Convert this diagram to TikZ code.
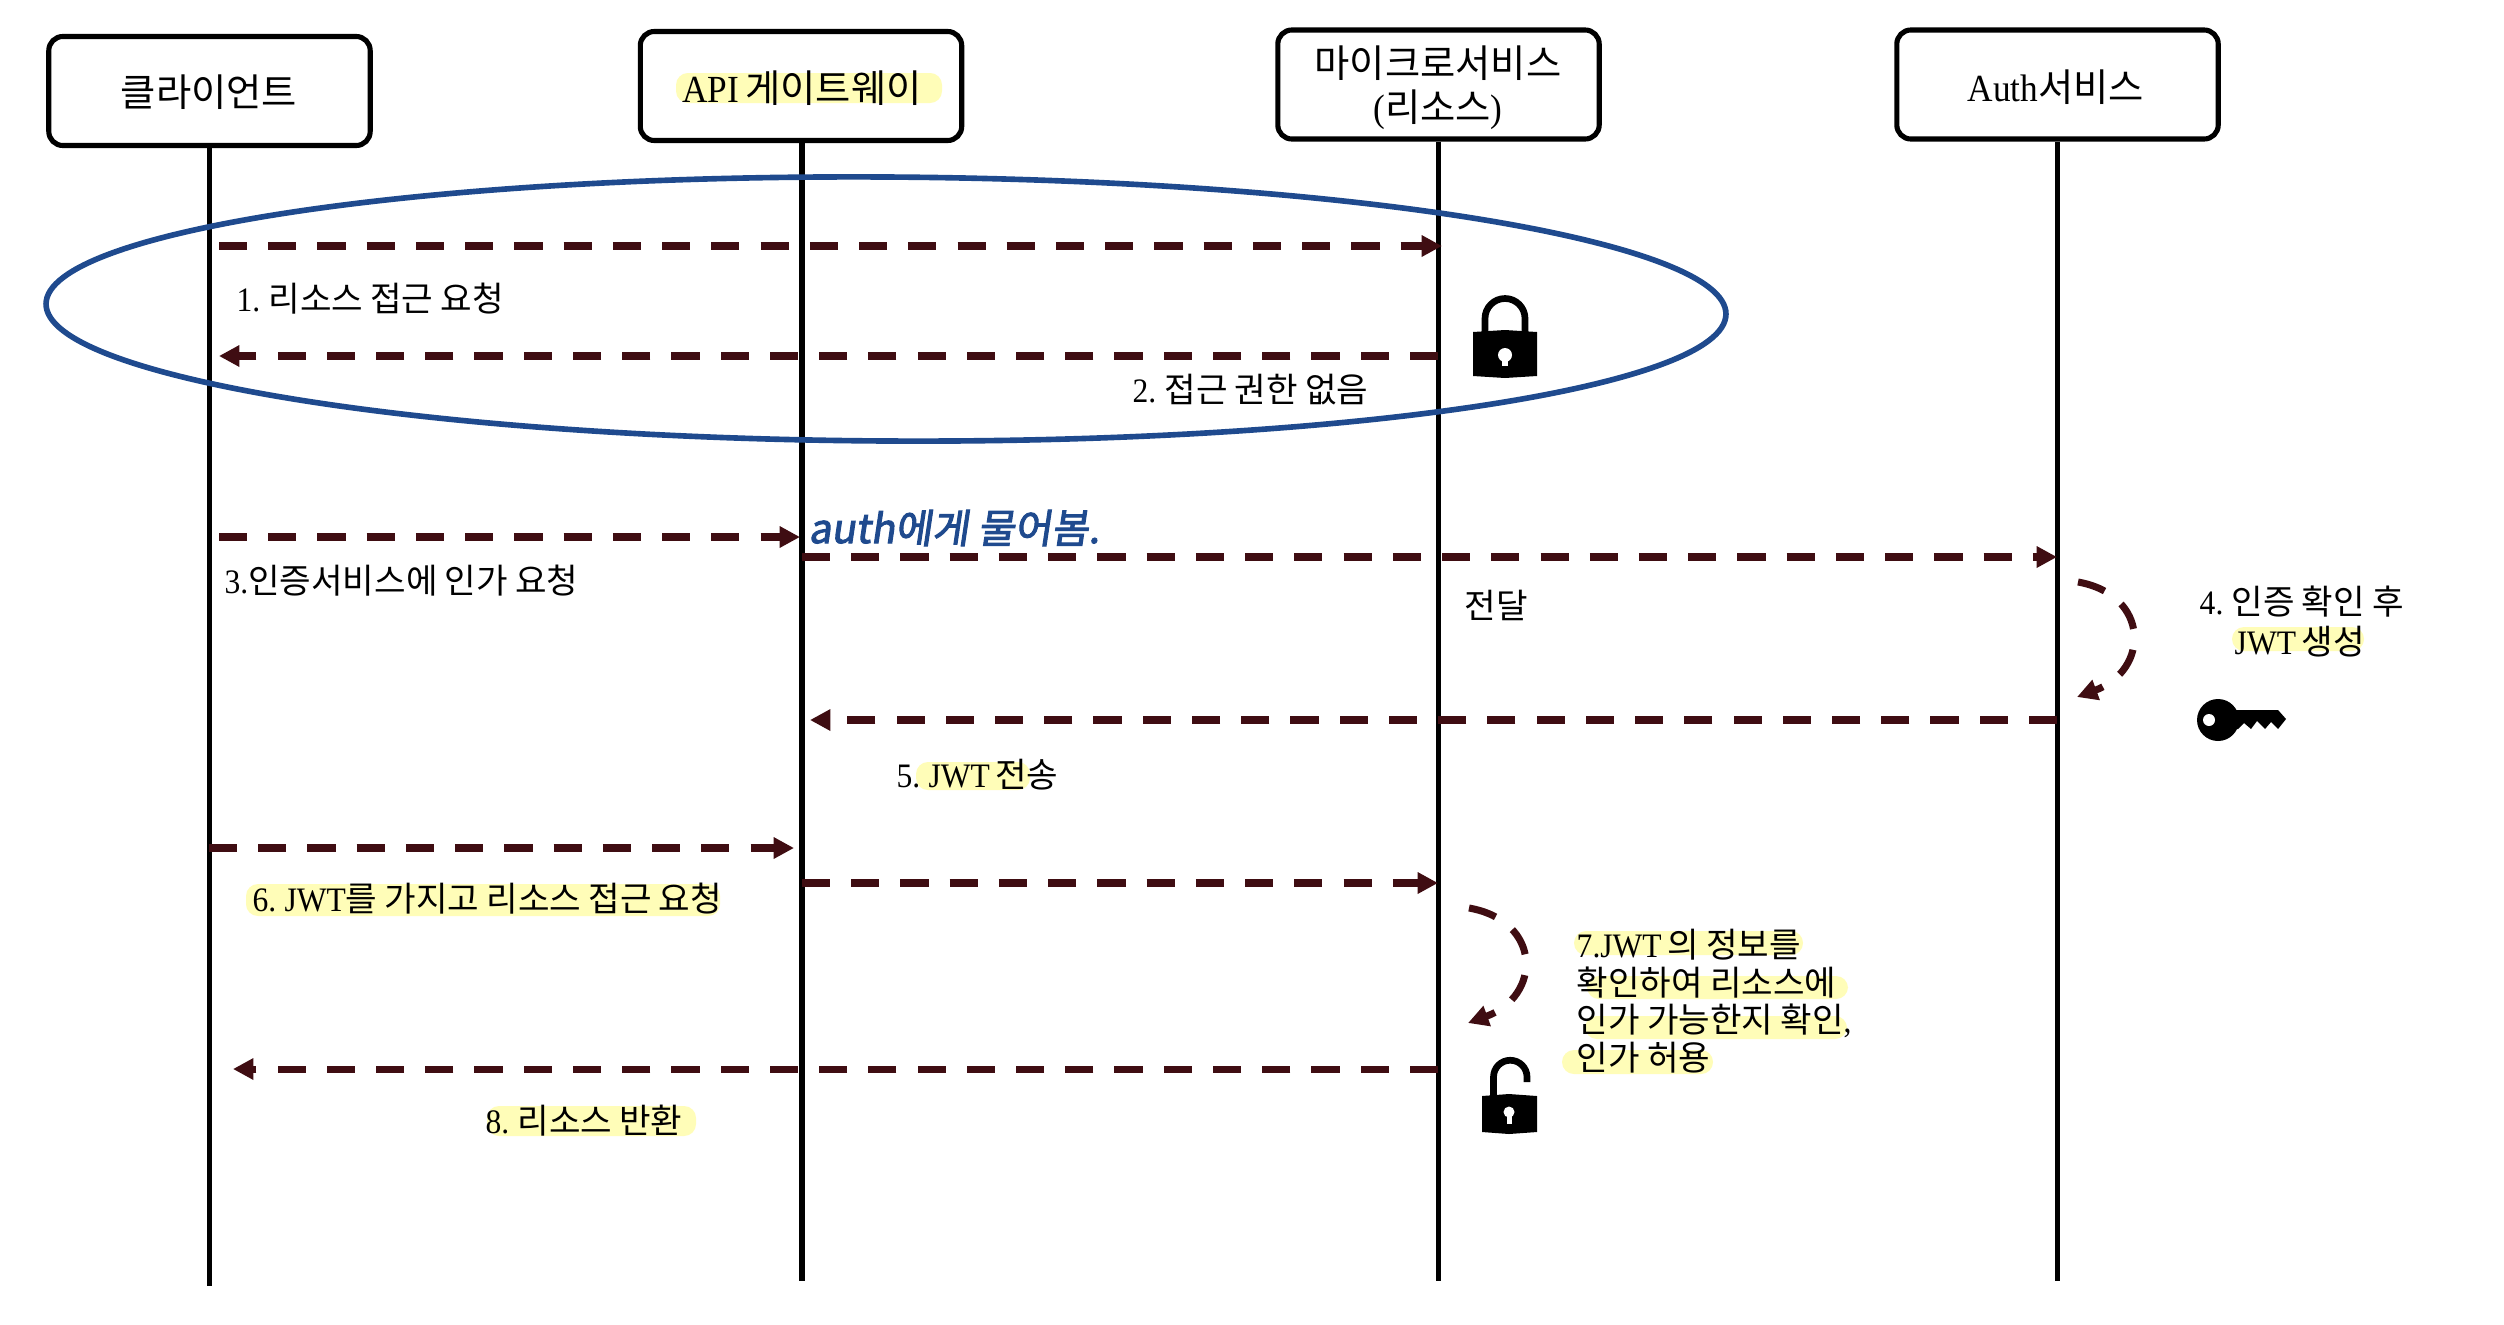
\documentclass[tikz,border=0pt]{standalone}
\usepackage{fontspec}
\setmainfont[WordSpace=0.7,FakeStretch=0.92]{Liberation Serif}
\newfontfamily\krf[WordSpace=0.95]{Noto Sans CJK KR}
\newfontfamily\handf[FakeSlant=0.15,FakeBold=2.5]{Noto Sans CJK KR}
\newcommand{\K}[1]{{\krf #1}}
\usetikzlibrary{arrows.meta}
\definecolor{arrowc}{HTML}{3F0D12}
\definecolor{ringc}{HTML}{1F4A8E}
\definecolor{hlc}{HTML}{FFFDB8}
\tikzset{
  actor/.style={draw=black,line width=1.45pt,rounded corners=4pt,fill=white,inner sep=0pt,minimum width=91.4pt,minimum height=31pt},
  lifeline/.style={draw=black,line width=1.45pt},
  msg/.style={draw=arrowc,line width=2pt,dash pattern=on 8pt off 6pt,-{Triangle[length=5.8pt,width=5.8pt,fill=arrowc]}},
  lbl/.style={inner sep=0pt,font=\fontsize{9.75}{12}\selectfont,text=black,anchor=west},
  clbl/.style={inner sep=0pt,font=\fontsize{10.9}{13}\selectfont,text=black,anchor=center,align=center},
  hl/.style={fill=hlc,rounded corners=3.4pt},
  ring/.style={draw=ringc,line width=1.6pt},
  shackle/.style={draw=black,line width=1.9pt}
}
\begin{document}
\begin{tikzpicture}[x=0.01cm,y=-0.01cm]
\useasboundingbox[fill=white] (0,0) rectangle (2504,1324);
% actors
\node[actor] (client) at (209.5,91) {};
\node[actor] (api) at (801,86) {};
\node[actor] (ms) at (1438.5,84.5) {};
\node[actor] (auth) at (2057.5,84.5) {};
% highlights
\fill[hl] (676,73) rectangle (942,103);
\fill[hl] (916,762) rectangle (1030,790);
\fill[hl] (246,884) rectangle (720,916);
\fill[hl] (487,1106) rectangle (696,1136);
\fill[hl] (2232,627) rectangle (2364,651);
\fill[hl] (1574,931) rectangle (1803,955);
\fill[hl] (1587,976) rectangle (1848,999);
\fill[hl] (1585,1016) rectangle (1847,1039);
\fill[hl] (1562,1050) rectangle (1713,1074);
\node[clbl] (clientt) at (209,92) {\K{클라이언트}};
\node[clbl] (apit) at (802,88) {API \K{게이트웨이}};
\node[clbl] (mst) at (1438,88) {\K{마이크로서비스}\\[-0.4pt](\K{리소스})};
\node[clbl] (autht) at (2056,87) {Auth\K{서비스}};
% lifelines
\coordinate (e1) at (209.5,1286);
\coordinate (e2) at (802,1281);
\coordinate (e3) at (1438.5,1281);
\coordinate (e4) at (2057.5,1281);
\draw[lifeline] (client.south -| e1) -- (e1);
\draw[lifeline] (api.south -| e2) -- (e2);
\draw[lifeline] (ms.south -| e3) -- (e3);
\draw[lifeline] (auth.south -| e4) -- (e4);
% ring
\draw[ring,rotate around={-0.35:(886,309)}] (886,309) ellipse [x radius=840,y radius=132];
% message end points
\coordinate (m1a) at (219,246); \coordinate (m1b) at (1442,246);
\coordinate (m2a) at (1438,356); \coordinate (m2b) at (219,356);
\coordinate (m3a) at (219,537); \coordinate (m3b) at (800,537);
\coordinate (m4a) at (802,557); \coordinate (m4b) at (2057,557);
\coordinate (m5a) at (2057,720); \coordinate (m5b) at (810,720);
\coordinate (m6a) at (209,848); \coordinate (m6b) at (794,848);
\coordinate (m7a) at (802,883); \coordinate (m7b) at (1438,883);
\coordinate (m8a) at (1438,1069); \coordinate (m8b) at (233,1069);
\coordinate (s1a) at (2078,582); \coordinate (s1b) at (2077,697);
\coordinate (s2a) at (1469,908); \coordinate (s2b) at (1468,1023);
\draw[msg] (m1a) -- (m1b);
\draw[msg] (m2a) -- (m2b);
\draw[msg] (m3a) -- (m3b);
\draw[msg] (m4a) -- (m4b);
\draw[msg] (m5a) -- (m5b);
\draw[msg] (m6a) -- (m6b);
\draw[msg] (m7a) -- (m7b);
\draw[msg] (m8a) -- (m8b);
\draw[msg] (s1a) .. controls (2150,595) and (2150,670) .. (s1b);
\draw[msg] (s2a) .. controls (1542,921) and (1542,996) .. (s2b);
% labels
\node[lbl] (l1) at (236,299) {1. \K{리소스 접근 요청}};
\node[lbl] (l2) at (1132,390) {2. \K{접근 권한 없음}};
\node[lbl] (l3) at (224,581) {3.\K{인증서비스에 인가 요청}};
\node[lbl] (ld) at (1464,605) {\K{전달}};
\node[lbl] (l4a) at (2199,602) {4. \K{인증 확인 후}};
\node[lbl] (l4b) at (2234,642) {JWT \K{생성}};
\node[lbl] (l5) at (896,775) {5. JWT \K{전송}};
\node[lbl] (l6) at (252,899) {6. JWT\K{를 가지고 리소스 접근 요청}};
\node[lbl] (l7a) at (1576,945) {7.JWT \K{의 정보를}};
\node[lbl] (l7b) at (1576,983) {\K{확인하여 리소스에}};
\node[lbl] (l7c) at (1576,1021) {\K{인가 가능한지 확인},};
\node[lbl] (l7d) at (1576,1058) {\K{인가 허용}};
\node[lbl] (l8) at (485,1121) {8. \K{리소스 반환}};
\node[anchor=west,inner sep=0pt,text=ringc,font=\fontsize{11.4}{13}\selectfont] (hand) at (808,528) {\handf auth에게 물어봄.};
% closed lock
\draw[shackle] (1485,335) -- (1485,318.5) arc [start angle=180,end angle=360,radius=20] -- (1525,335);
\fill[black] (1473,332) -- (1505,330) -- (1537,332) -- (1537,376) -- (1505,378) -- (1473,376) -- cycle;
\fill[white] (1505,355) circle [radius=7];
\fill[white] (1502,357) rectangle (1508,366);
% open lock
\draw[shackle] (1493.5,1098) -- (1493.5,1077) arc [start angle=180,end angle=360,radius=16.75] -- (1527,1082);
\fill[black] (1482,1096) -- (1509,1094) -- (1537,1096) -- (1537,1132) -- (1509,1134) -- (1482,1132) -- cycle;
\fill[white] (1509,1112) circle [radius=5.5];
\fill[white] (1506.5,1114) rectangle (1511.5,1124);
% key
\fill[black] (2218,720) circle [radius=21];
\fill[black] (2225,710) -- (2278,710) -- (2286,719) -- (2278,729) -- (2271,722) -- (2265,729) -- (2257,721) -- (2251,729) -- (2244,723) -- (2238,729) -- (2225,729) -- cycle;
\fill[white] (2209,720) circle [radius=6];
\end{tikzpicture}
\end{document}
